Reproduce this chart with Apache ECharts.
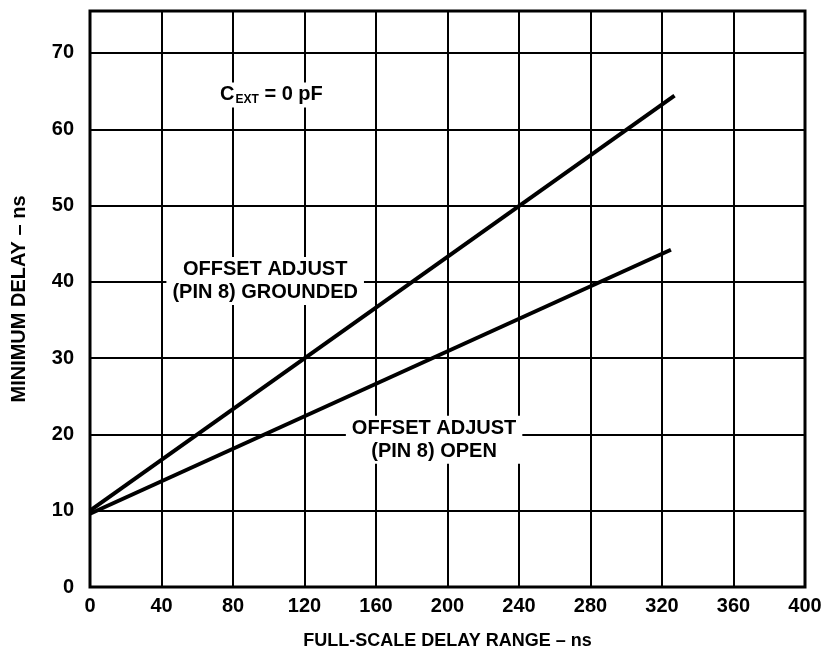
<!DOCTYPE html>
<html><head><meta charset="utf-8">
<script src="https://cdn.jsdelivr.net/npm/echarts@6/dist/echarts.min.js"></script>
<style>html,body{margin:0;padding:0;background:#fff}#c{width:825px;height:653px}</style>
</head><body><div id="c"></div>
<script>
const xTicks = [0,40,80,120,160,200,240,280,320,360,400];
const yTicks = [0,10,20,30,40,50,60,70];
const groundedLine = [[0,10],[327,64.4]];
const openLine = [[0,9.6],[325,44.2]];
const annotations = [
  {name:'grounded', value:[98,40.1], text:'OFFSET ADJUST\n(PIN 8) GROUNDED'},
  {name:'open', value:[192.5,19.3], text:'OFFSET ADJUST\n(PIN 8) OPEN'},
  {name:'cext', value:[101.5,64.5], text:'{b|C}{s|EXT}{b| = 0 pF}'}
];
const F = '"Liberation Sans", Arial, sans-serif';
const chart = echarts.init(document.getElementById('c'));
chart.setOption({
  animation:false,
  backgroundColor:'#fff',
  grid:{left:90,right:20,top:11,bottom:66,containLabel:false,outerBoundsMode:'none',
    show:true,borderColor:'#000',borderWidth:3,backgroundColor:'transparent'},
  xAxis:{type:'value',min:0,max:400,interval:40,
    name:'FULL-SCALE DELAY RANGE – ns',nameLocation:'middle',nameGap:45,
    nameTextStyle:{fontFamily:F,fontWeight:'bold',fontSize:18,color:'#000'},
    axisLine:{show:false},axisTick:{show:false},
    axisLabel:{fontFamily:F,fontWeight:'bold',fontSize:20,color:'#000',margin:9,hideOverlap:false,
      formatter:v=>xTicks.includes(v)?String(v):''},
    splitLine:{show:true,lineStyle:{color:'#000',width:2}}},
  yAxis:{type:'value',min:0,max:75.5,interval:10,
    name:'MINIMUM DELAY – ns',nameLocation:'middle',nameGap:61,
    nameTextStyle:{fontFamily:F,fontWeight:'bold',fontSize:20,color:'#000'},
    axisLine:{show:false},axisTick:{show:false},
    axisLabel:{fontFamily:F,fontWeight:'bold',fontSize:20,color:'#000',margin:16,showMaxLabel:false,
      formatter:v=>yTicks.includes(v)?String(v):''},
    splitLine:{show:true,lineStyle:{color:'#000',width:2}}},
  series:[
    {type:'line',data:groundedLine,symbol:'none',lineStyle:{color:'#000',width:4},z:3},
    {type:'line',data:openLine,symbol:'none',lineStyle:{color:'#000',width:4},z:3}
  ]
});
const texts = annotations.map(a=>{
  const p = chart.convertToPixel({gridIndex:0}, a.value);
  return {type:'text',x:p[0],y:p[1],z:100,
    style:{text:a.text,fill:'#000',font:'bold 20px '+F,align:'center',verticalAlign:'middle',
      lineHeight:23,backgroundColor:'#fff',padding:[1,6],
      rich:{b:{fill:'#000',font:'bold 20px '+F,fontSize:20,fontWeight:'bold',fontFamily:F},
            s:{fill:'#000',font:'bold 12px '+F,fontSize:12,fontWeight:'bold',fontFamily:F,padding:[9,0,0,1]}}}};
});
chart.setOption({graphic:texts});
</script></body></html>
